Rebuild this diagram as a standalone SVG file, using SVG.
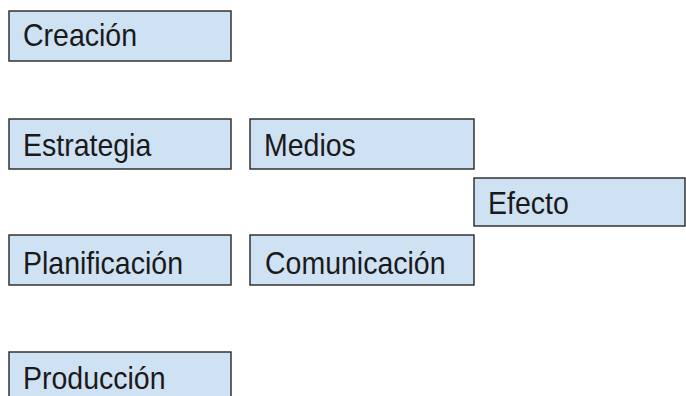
<svg xmlns="http://www.w3.org/2000/svg" width="686" height="396" viewBox="0 0 686 396">
<style>
.box{fill:#cfe2f3;stroke:#262626;stroke-width:1.4}
.lbl{font-family:"Liberation Sans",Arial,sans-serif;font-size:28.5px;fill:#1a1a1a}
</style>
<rect width="686" height="396" fill="#ffffff"/>
<g id="connectors"/>
<g id="creacion"><rect class="box" x="9" y="11" width="222" height="50"/><text class="lbl" transform="translate(23,46) scale(1,1.08)">Creación</text></g>
<g id="estrategia"><rect class="box" x="9" y="119" width="222" height="50"/><text class="lbl" transform="translate(23,156) scale(1,1.08)">Estrategia</text></g>
<g id="medios"><rect class="box" x="250" y="119" width="224" height="50"/><text class="lbl" transform="translate(264,156) scale(1,1.08)">Medios</text></g>
<g id="efecto"><rect class="box" x="474" y="178" width="211" height="48"/><text class="lbl" transform="translate(488,214) scale(1,1.08)">Efecto</text></g>
<g id="planificacion"><rect class="box" x="9" y="235" width="222" height="50"/><text class="lbl" transform="translate(23,274) scale(1,1.08)">Planificación</text></g>
<g id="comunicacion"><rect class="box" x="250" y="235" width="224" height="50"/><text class="lbl" transform="translate(265,274) scale(1,1.08)">Comunicación</text></g>
<g id="produccion"><rect class="box" x="9" y="352" width="222" height="50"/><text class="lbl" transform="translate(23,389) scale(1,1.08)">Producción</text></g>
</svg>
